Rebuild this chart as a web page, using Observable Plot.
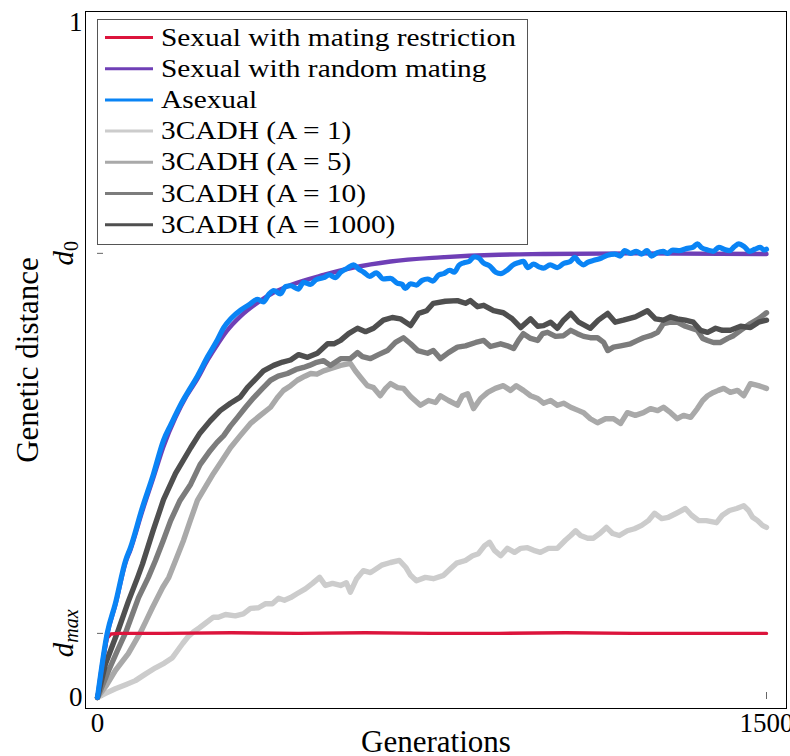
<!DOCTYPE html>
<html><head><meta charset="utf-8">
<script src="https://cdn.jsdelivr.net/npm/d3@7"></script>
<script src="https://cdn.jsdelivr.net/npm/@observablehq/plot@0.6"></script>
<style>body{margin:0;background:#fff;} #chart{width:790px;height:756px;}</style>
</head><body><div id="chart"></div>
<script>
// ---- data (generation, genetic distance in [0,1]) ----
const seriesNames = ["Sexual with mating restriction","Sexual with random mating","Asexual","3CADH (A = 1)","3CADH (A = 5)","3CADH (A = 10)","3CADH (A = 1000)"];
const seriesColors = ["#dc143c","#6f3fb6","#0a84f5","#cccccc","#a9a9a9","#7c7c7c","#4f4f4f"];
const dMax = 0.095, d0 = 0.658;
const yTickValues = [0, dMax, d0, 1];
const xTickValues = [0, 1500];

const restricted = [[0,0],[12,0.052],[22,0.088],[30,0.094],[50,0.095],[150,0.095],[300,0.096],[450,0.095],[600,0.096],[750,0.095],[900,0.095],[1050,0.096],[1200,0.095],[1350,0.095],[1500,0.095]];
const randomMating = [[0,0],[22,0.094],[40,0.137],[63,0.2],[74,0.219],[100,0.275],[125,0.325],[148,0.372],[175,0.415],[200,0.447],[224,0.472],[247,0.5],[269,0.523],[290,0.543],[321,0.565],[359,0.585],[395,0.6],[433,0.611],[507,0.626],[574,0.637],[657,0.646],[769,0.652],[900,0.656],[1000,0.657],[1200,0.658],[1500,0.657]];
const asexual = [[0,0],[22,0.096],[40,0.139],[63,0.203],[74,0.222],[100,0.28],[125,0.33],[148,0.381],[165,0.405],[185,0.432],[205,0.455],[224,0.476],[247,0.505],[269,0.530],[283,0.548],[300,0.562],[321,0.574],[340,0.582],[359,0.590],[372,0.586],[385,0.598],[395,0.603],[410,0.598],[422,0.609],[433,0.610],[450,0.605],[462,0.615],[478,0.612],[490,0.619],[507,0.622],[520,0.626],[533,0.622],[545,0.630],[560,0.636],[574,0.641],[585,0.635],[597,0.630],[610,0.624],[625,0.629],[641,0.620],[657,0.621],[672,0.614],[683,0.612],[690,0.606],[702,0.613],[715,0.611],[728,0.618],[740,0.620],[752,0.617],[765,0.626],[776,0.628],[790,0.633],[800,0.630],[810,0.640],[821,0.644],[833,0.646],[845,0.653],[855,0.651],[865,0.644],[880,0.639],[893,0.630],[904,0.628],[920,0.634],[932,0.641],[943,0.644],[955,0.646],[965,0.637],[978,0.642],[990,0.638],[1000,0.636],[1015,0.641],[1031,0.637],[1045,0.643],[1060,0.646],[1070,0.652],[1080,0.645],[1090,0.641],[1100,0.645],[1115,0.648],[1130,0.651],[1143,0.655],[1160,0.657],[1172,0.654],[1182,0.662],[1195,0.658],[1208,0.661],[1220,0.657],[1232,0.662],[1242,0.654],[1255,0.659],[1268,0.661],[1278,0.658],[1290,0.663],[1305,0.662],[1320,0.665],[1335,0.667],[1345,0.672],[1355,0.666],[1368,0.663],[1381,0.661],[1393,0.667],[1405,0.664],[1417,0.662],[1428,0.668],[1438,0.672],[1450,0.668],[1462,0.661],[1474,0.664],[1486,0.667],[1494,0.663],[1500,0.664]];
const cadhA1 = [[0,0],[18,0.006],[40,0.013],[63,0.019],[85,0.025],[108,0.035],[130,0.044],[150,0.051],[168,0.059],[180,0.07],[191,0.08],[203,0.09],[215,0.097],[228,0.103],[242,0.11],[260,0.119],[271,0.119],[287,0.123],[309,0.121],[327,0.124],[343,0.132],[361,0.133],[377,0.139],[392,0.139],[406,0.147],[419,0.144],[433,0.148],[448,0.154],[466,0.161],[482,0.169],[498,0.178],[511,0.166],[527,0.169],[545,0.166],[558,0.170],[567,0.156],[581,0.176],[596,0.188],[612,0.185],[637,0.196],[657,0.200],[677,0.203],[691,0.193],[702,0.181],[715,0.173],[735,0.178],[753,0.176],[776,0.181],[792,0.191],[805,0.199],[825,0.203],[841,0.210],[854,0.213],[868,0.225],[879,0.230],[890,0.218],[904,0.210],[919,0.221],[935,0.215],[949,0.221],[964,0.222],[978,0.218],[993,0.215],[1011,0.221],[1031,0.221],[1049,0.233],[1061,0.240],[1072,0.247],[1083,0.240],[1099,0.236],[1112,0.236],[1128,0.244],[1141,0.252],[1155,0.243],[1170,0.240],[1188,0.247],[1204,0.250],[1220,0.255],[1235,0.262],[1249,0.273],[1265,0.265],[1280,0.267],[1298,0.273],[1318,0.280],[1332,0.270],[1348,0.262],[1365,0.262],[1388,0.259],[1401,0.270],[1417,0.277],[1433,0.280],[1449,0.284],[1460,0.277],[1469,0.267],[1480,0.262],[1491,0.255],[1500,0.252]];
const cadhA5 = [[0,0],[20,0.018],[40,0.04],[69,0.065],[96,0.096],[110,0.115],[123,0.133],[146,0.163],[160,0.178],[175,0.203],[193,0.233],[208,0.262],[224,0.292],[242,0.312],[260,0.332],[280,0.352],[298,0.370],[320,0.388],[343,0.406],[365,0.418],[388,0.430],[403,0.444],[417,0.455],[433,0.462],[448,0.470],[465,0.476],[478,0.480],[492,0.479],[507,0.484],[522,0.487],[545,0.492],[567,0.495],[578,0.484],[590,0.474],[605,0.462],[619,0.459],[634,0.447],[646,0.458],[657,0.465],[673,0.459],[686,0.458],[702,0.446],[724,0.433],[742,0.440],[758,0.437],[769,0.447],[787,0.440],[807,0.433],[818,0.447],[830,0.450],[843,0.428],[859,0.443],[875,0.452],[892,0.458],[910,0.462],[926,0.455],[939,0.462],[955,0.455],[971,0.447],[987,0.443],[1000,0.436],[1016,0.440],[1031,0.433],[1045,0.436],[1061,0.430],[1079,0.425],[1090,0.422],[1105,0.413],[1121,0.407],[1139,0.413],[1157,0.413],[1173,0.406],[1188,0.422],[1206,0.418],[1224,0.422],[1240,0.428],[1256,0.425],[1269,0.430],[1285,0.422],[1300,0.413],[1314,0.418],[1330,0.415],[1345,0.428],[1357,0.440],[1368,0.447],[1381,0.452],[1392,0.455],[1404,0.458],[1419,0.452],[1435,0.455],[1449,0.447],[1464,0.465],[1482,0.462],[1500,0.458]];
const cadhA10 = [[0,0],[25,0.04],[45,0.07],[63,0.096],[92,0.148],[114,0.178],[130,0.203],[147,0.232],[164,0.262],[185,0.292],[209,0.316],[230,0.345],[253,0.366],[268,0.378],[283,0.388],[298,0.402],[314,0.415],[332,0.43],[350,0.444],[370,0.458],[388,0.470],[405,0.476],[426,0.480],[445,0.486],[462,0.489],[475,0.492],[489,0.496],[507,0.499],[522,0.492],[545,0.502],[567,0.502],[583,0.511],[594,0.505],[612,0.502],[630,0.508],[650,0.514],[668,0.526],[686,0.533],[702,0.524],[718,0.514],[740,0.510],[753,0.514],[769,0.502],[787,0.511],[807,0.519],[825,0.521],[848,0.526],[866,0.529],[881,0.520],[904,0.524],[919,0.521],[933,0.517],[944,0.529],[955,0.539],[971,0.532],[987,0.529],[998,0.539],[1009,0.541],[1027,0.535],[1045,0.536],[1061,0.544],[1076,0.539],[1090,0.535],[1105,0.533],[1121,0.533],[1135,0.526],[1144,0.514],[1157,0.519],[1173,0.521],[1195,0.524],[1211,0.529],[1224,0.533],[1240,0.536],[1256,0.541],[1269,0.554],[1285,0.556],[1300,0.556],[1318,0.550],[1345,0.544],[1357,0.532],[1368,0.529],[1381,0.526],[1397,0.526],[1413,0.532],[1426,0.536],[1442,0.544],[1464,0.554],[1482,0.561],[1500,0.570]];
const cadhA1000 = [[0,0],[18,0.05],[45,0.097],[69,0.142],[90,0.178],[101,0.198],[125,0.248],[148,0.293],[175,0.332],[209,0.370],[230,0.392],[253,0.410],[275,0.425],[298,0.436],[320,0.445],[336,0.459],[355,0.472],[372,0.484],[395,0.492],[415,0.497],[433,0.500],[451,0.508],[471,0.504],[493,0.510],[516,0.524],[530,0.524],[545,0.529],[563,0.539],[583,0.547],[601,0.542],[619,0.547],[641,0.559],[661,0.563],[679,0.561],[702,0.551],[720,0.569],[738,0.573],[753,0.584],[780,0.587],[807,0.588],[825,0.584],[836,0.588],[852,0.579],[866,0.581],[888,0.573],[910,0.570],[930,0.561],[949,0.548],[971,0.561],[987,0.550],[1000,0.551],[1016,0.556],[1031,0.547],[1045,0.559],[1061,0.569],[1079,0.556],[1105,0.547],[1123,0.559],[1144,0.569],[1161,0.556],[1179,0.559],[1206,0.564],[1233,0.573],[1251,0.561],[1269,0.559],[1285,0.564],[1300,0.561],[1318,0.559],[1336,0.556],[1352,0.544],[1368,0.541],[1386,0.547],[1401,0.544],[1419,0.544],[1442,0.550],[1464,0.548],[1482,0.556],[1500,0.559]];

const seriesData = [restricted, randomMating, asexual, cadhA1, cadhA5, cadhA10, cadhA1000];
const drawOrder = [3,4,5,6,0,1,2];
const strokeWidths = [3.4,4.4,5.2,5.4,5.4,5.4,5.4];
const curves = ["linear","monotone-x","monotone-x","linear","linear","linear","linear"];

const rows = i => seriesData[i].map(([gen, value]) => ({gen, value, series: seriesNames[i]}));
const dLabels = [{value: dMax, sub: "max"}, {value: d0, sub: "0"}];

const font = "'Liberation Serif', 'Times New Roman', serif";

const chart = Plot.plot({
  width: 790, height: 756,
  marginLeft: 85, marginRight: 4, marginTop: 11, marginBottom: 48,
  x: {domain: [0, 1500], range: [97, 766]},
  y: {domain: [0, 1], range: [697, 22]},
  style: {fontFamily: font, background: "white", color: "black"},
  marks: [
    Plot.frame({stroke: "black", strokeWidth: 1}),
    Plot.axisY(yTickValues, {tickSize: 6, dx: 18, fill: "none", stroke: "#666", label: null}),
    Plot.axisX(xTickValues, {tickSize: 7, dy: -16, fill: "none", stroke: "#666", label: null}),
    Plot.axisY([0, 1], {tickSize: 0, stroke: "none", tickPadding: 3, fontSize: 27, fill: "black", tickFormat: d => String(d), label: null}),
    Plot.axisX(xTickValues, {tickSize: 0, stroke: "none", tickPadding: 4, fontSize: 27, fill: "black", tickFormat: d => String(d), label: null}),
    Plot.text(dLabels, {y: "value", text: d => "d" + d.sub, frameAnchor: "left", dx: -22, rotate: -90, fontSize: 29, textAnchor: "middle", lineAnchor: "middle"}),
    ...drawOrder.map(i => Plot.line(rows(i), {x: "gen", y: "value", stroke: seriesColors[i], strokeWidth: strokeWidths[i], strokeLinejoin: "round", strokeLinecap: "round", curve: curves[i]})),
    Plot.text(["Generations"], {frameAnchor: "bottom", dy: 34, fontSize: 31, lineAnchor: "middle"}),
    Plot.text(["Genetic distance"], {frameAnchor: "left", dx: -57, rotate: -90, fontSize: 31, textAnchor: "middle", lineAnchor: "middle"})
  ]
});
document.getElementById("chart").appendChild(chart);

// italic d with subscript on the d labels
const svg = d3.select(chart);
svg.selectAll("text").each(function() {
  const t = d3.select(this);
  const label = dLabels.find(d => "d" + d.sub === t.text());
  if (!label) return;
  t.text(null);
  t.append("tspan").attr("font-style", "italic").text("d");
  t.append("tspan").attr("font-style", label.sub === "max" ? "italic" : "normal").attr("font-size", 20).attr("dy", "0.28em").text(label.sub);
});

// legend inside the plot
const lg = svg.append("g").attr("font-family", font).attr("font-size", 26).attr("text-anchor", "start");
lg.append("rect").attr("x", 97.5).attr("y", 19.5).attr("width", 430).attr("height", 225)
  .attr("fill", "white").attr("stroke", "#555").attr("stroke-width", 1);
seriesNames.forEach((name, i) => {
  const yy = 37.5 + i * 31.2;
  lg.append("line").attr("x1", 105).attr("x2", 153).attr("y1", yy).attr("y2", yy)
    .attr("stroke", seriesColors[i]).attr("stroke-width", 3);
  lg.append("text").attr("transform", `translate(161,${yy + 8}) scale(1.13,1)`).attr("fill", "black").text(name);
});
</script>
</body></html>
